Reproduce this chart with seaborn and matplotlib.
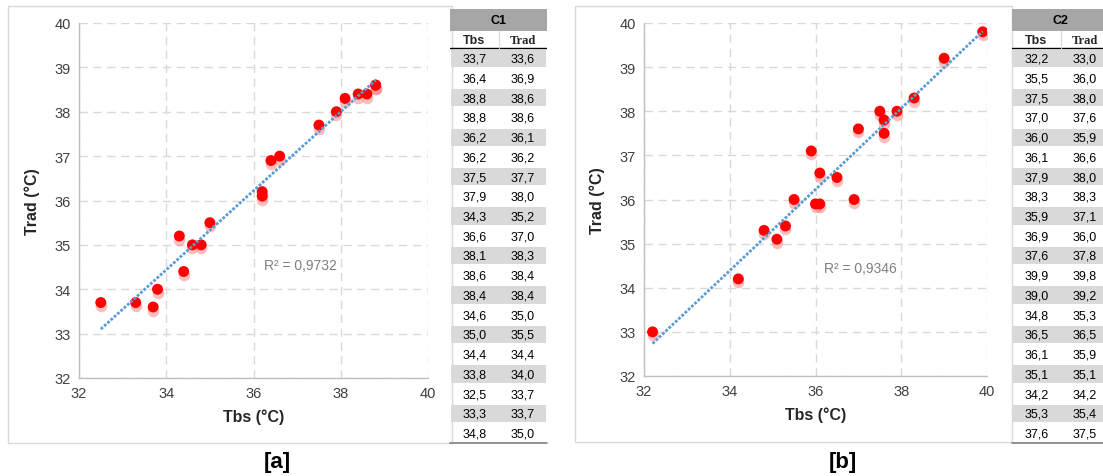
import numpy as np
import pandas as pd
import seaborn as sns
import matplotlib.pyplot as plt
import matplotlib.transforms as mtransforms
from matplotlib.patches import Rectangle

# Campaign C1 readings
c1_tbs = [33.7, 36.4, 38.8, 38.8, 36.2, 36.2, 37.5, 37.9, 34.3, 36.6,
          38.1, 38.6, 38.4, 34.6, 35.0, 34.4, 33.8, 32.5, 33.3, 34.8]
c1_trad = [33.6, 36.9, 38.6, 38.6, 36.1, 36.2, 37.7, 38.0, 35.2, 37.0,
           38.3, 38.4, 38.4, 35.0, 35.5, 34.4, 34.0, 33.7, 33.7, 35.0]

# Campaign C2 readings
c2_tbs = [32.2, 35.5, 37.5, 37.0, 36.0, 36.1, 37.9, 38.3, 35.9, 36.9,
          37.6, 39.9, 39.0, 34.8, 36.5, 36.1, 35.1, 34.2, 35.3, 37.6]
c2_trad = [33.0, 36.0, 38.0, 37.6, 35.9, 36.6, 38.0, 38.3, 37.1, 36.0,
           37.8, 39.8, 39.2, 35.3, 36.5, 35.9, 35.1, 34.2, 35.4, 37.5]

r2_labels = ["R² = 0,9732", "R² = 0,9346"]
panel_labels = ["[a]", "[b]"]
table_titles = ["C1", "C2"]
ticks = [32, 34, 36, 38, 40]
yticks = [32, 33, 34, 35, 36, 37, 38, 39, 40]

sns.set_theme(style="white")
plt.rcParams['font.family'] = ['Liberation Sans', 'DejaVu Sans']

W, H = 1103, 477
fig = plt.figure(figsize=(W / 100, H / 100), dpi=100)


def fx(px):
    return px / W


def fy(py):
    return 1 - py / H


def fmt(v):
    return f"{v:.1f}".replace(".", ",")


def panel(box, ax_box, tbl_box, tbs, trad, r2, r2_xy, label, label_x, title):
    # light frame around the chart area
    bx0, by0, bx1, by1 = box
    fig.add_artist(Rectangle((fx(bx0), fy(by1)), fx(bx1 - bx0), (by1 - by0) / H,
                             transform=fig.transFigure, fill=False,
                             edgecolor="#d9d9d9", linewidth=1.0, zorder=0))
    x0, y0, x1, y1 = ax_box
    ax = fig.add_axes([fx(x0), fy(y1), fx(x1 - x0), (y1 - y0) / H])
    df = pd.DataFrame({"Tbs": tbs, "Trad": trad})

    # blurred red shadow under each marker
    shadow = mtransforms.offset_copy(ax.transData, fig=fig, x=0, y=-3.5, units="dots")
    ax.scatter(df["Tbs"], df["Trad"], s=70, color="#ff7070", alpha=0.45,
               transform=shadow, linewidths=0, zorder=2)
    sns.scatterplot(data=df, x="Tbs", y="Trad", ax=ax, s=62, color="#ff0000",
                    edgecolor="none", zorder=3)
    sns.regplot(data=df, x="Tbs", y="Trad", ax=ax, scatter=False, ci=None,
                truncate=True,
                line_kws=dict(color="#5b9bd5", linestyle=(0, (1, 0.6)), linewidth=2.0,
                              zorder=4))

    ax.set_xlim(32, 40)
    ax.set_ylim(32, 40)
    ax.set_xticks(ticks)
    ax.set_yticks(yticks)
    ax.grid(True, color="#d9d9d9", linestyle=(0, (6, 4)), linewidth=1.0)
    for s in ["top", "right"]:
        ax.spines[s].set_visible(False)
    for s in ["left", "bottom"]:
        ax.spines[s].set_color("#bfbfbf")
        ax.spines[s].set_linewidth(1.0)
    ax.tick_params(axis="both", labelsize=10.5, colors="#404040", length=0, pad=6)
    ax.set_xlabel("Tbs (°C)", fontsize=11.5, fontweight="bold", color="#262626", labelpad=6)
    ax.set_ylabel("Trad (°C)", fontsize=11.5, fontweight="bold", color="#262626", labelpad=10)
    ax.text(r2_xy[0], r2_xy[1], r2, fontsize=10, color="#7f7f7f", va="center", ha="left",
            zorder=5)
    fig.text(fx(label_x), fy(463), label, fontsize=16, fontweight="bold",
             ha="center", va="center", color="#000000")

    # data table beside the chart
    tx0, ty0, tx1, ty1 = tbl_box
    tax = fig.add_axes([fx(tx0), fy(ty1), fx(tx1 - tx0), (ty1 - ty0) / H])
    n = len(tbs)
    total = n + 2
    tax.set_xlim(0, 2)
    tax.set_ylim(total, 0)
    tax.axis("off")
    tfont = ['Liberation Sans Narrow', 'Liberation Sans', 'DejaVu Sans']
    tax.add_patch(Rectangle((0, 0), 2, 1.1, facecolor="#a6a6a6", edgecolor="none"))
    tax.text(1, 0.58, title, ha="center", va="center", fontsize=9, fontweight="bold",
             family=tfont, color="#000000")
    tax.text(0.5, 1.58, "Tbs", ha="center", va="center", fontsize=9, fontweight="bold",
             family=tfont)
    tax.text(1.5, 1.58, "Trad", ha="center", va="center", fontsize=9, fontweight="bold",
             family=["Liberation Serif", "DejaVu Serif"])
    tax.plot([0, 2], [2, 2], color="#000000", linewidth=1.0)
    tax.plot([1, 1], [1.1, 2], color="#d9d9d9", linewidth=0.8)
    for i, (a, b) in enumerate(zip(tbs, trad)):
        top = 2 + i
        if i % 2 == 0:
            tax.add_patch(Rectangle((0.02, top + 0.06), 1.96, 0.88,
                                    facecolor="#d9d9d9", edgecolor="none"))
        tax.text(0.5, top + 0.52, fmt(a), ha="center", va="center", fontsize=9,
                 family=tfont, color="#000000")
        tax.text(1.5, top + 0.52, fmt(b), ha="center", va="center", fontsize=9,
                 family=tfont, color="#000000")
    tax.plot([0, 2], [total, total], color="#7f7f7f", linewidth=1.2, clip_on=False)
    return ax


panel((8, 7, 452, 444), (79, 24, 428, 379), (450, 10, 547, 444),
      c1_tbs, c1_trad, r2_labels[0], (36.25, 34.55), panel_labels[0], 277, table_titles[0])
panel((575, 7, 1012, 443), (644, 24, 987, 377), (1012, 10, 1109, 444),
      c2_tbs, c2_trad, r2_labels[1], (36.2, 34.45), panel_labels[1], 843, table_titles[1])

fig.savefig("out.png", dpi=100)
